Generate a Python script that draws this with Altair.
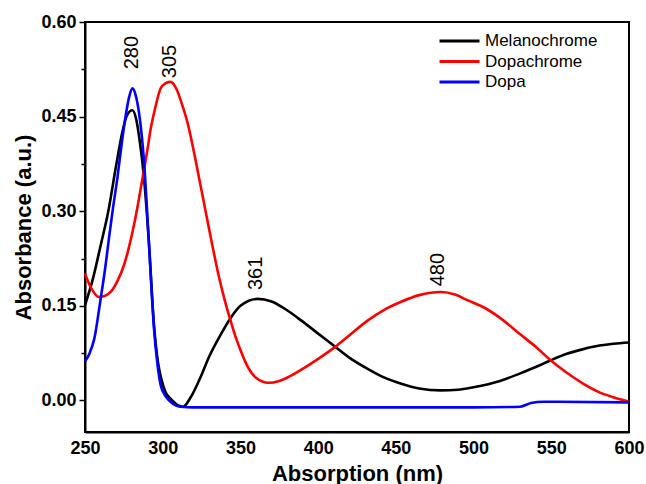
import altair as alt
import pandas as pd

# ---- data ----
mel_x = [250, 255, 260, 265, 270, 274, 277, 280.5, 283, 285, 288, 291, 294.4, 297, 299, 302, 305,
         310, 313, 318, 324, 330, 337, 343.5, 350, 361, 370, 380, 389, 400, 411, 420, 432, 442, 453,
         465, 479, 490, 500, 517, 530, 540, 549, 560, 570, 581, 590, 600]
mel_y = [0.151, 0.192, 0.245, 0.300, 0.372, 0.425, 0.452, 0.460, 0.445, 0.415, 0.352, 0.255, 0.119,
         0.060, 0.035, 0.012, 0.003, -0.008, -0.010, 0.005, 0.035, 0.070, 0.103, 0.130, 0.150, 0.161,
         0.157, 0.143, 0.127, 0.106, 0.085, 0.068, 0.050, 0.037, 0.027, 0.019, 0.016, 0.017, 0.021,
         0.031, 0.043, 0.053, 0.063, 0.074, 0.081, 0.087, 0.090, 0.092]

dopac_x = [250, 254, 259, 263, 266.5, 271, 275, 278, 281.5, 284, 287, 290, 292.3, 295, 298.7, 302,
           305, 309, 312.6, 316, 320, 324, 328, 332, 336, 340, 343.5, 347, 350, 355, 360, 368,
           375, 380, 390, 400, 411, 420, 432, 442, 453, 465, 479, 488, 496, 507, 517, 530, 540, 549,
           560, 571, 580, 590, 600]
dopac_y = [0.201, 0.178, 0.164, 0.166, 0.172, 0.190, 0.214, 0.240, 0.278, 0.310, 0.352, 0.395, 0.431,
           0.462, 0.495, 0.503, 0.505, 0.493, 0.468, 0.440, 0.395, 0.345, 0.295, 0.245, 0.198, 0.158,
           0.128, 0.100, 0.080, 0.052, 0.036, 0.028, 0.031, 0.036, 0.050, 0.066, 0.085, 0.103, 0.127,
           0.143, 0.156, 0.167, 0.172, 0.168, 0.159, 0.147, 0.131, 0.105, 0.085, 0.065, 0.044, 0.026,
           0.014, 0.005, -0.002]

dopa_x = [250, 253, 256, 260, 263, 265.4, 268, 270.8, 273.5, 276.2, 278.5, 280.5, 282.5, 284.7, 288,
          291.2, 294.4, 296.5, 298.7, 302, 305, 311.5, 320, 400, 500, 530, 537, 545, 600]
dopa_y = [0.062, 0.075, 0.098, 0.160, 0.210, 0.257, 0.305, 0.352, 0.405, 0.452, 0.482, 0.495, 0.485,
          0.457, 0.378, 0.246, 0.114, 0.060, 0.024, 0.006, -0.002, -0.010, -0.011, -0.011, -0.011,
          -0.010, -0.004, -0.002, -0.003]

series_names = ["Melanochrome", "Dopachrome", "Dopa"]
series_colors = ["#000000", "#ff0000", "#0000ff"]

peak_x = [280, 305, 360, 477]
peak_y = [0.525, 0.511, 0.175, 0.181]
peak_text = ["280", "305", "361", "480"]

y_ticks = [0.0, 0.075, 0.15, 0.225, 0.30, 0.375, 0.45, 0.525, 0.60]
x_ticks = [250, 300, 350, 400, 450, 500, 550, 600]

# ---- tables ----
rows = []
for name, xs, ys in zip(series_names, [mel_x, dopac_x, dopa_x], [mel_y, dopac_y, dopa_y]):
    for i, (a, b) in enumerate(zip(xs, ys)):
        rows.append({"series": name, "x": a, "y": b, "order": i})
df = pd.DataFrame(rows)
peaks = pd.DataFrame({"x": peak_x, "y": peak_y, "label": peak_text})

FONT = "Liberation Sans"

xscale = alt.Scale(domain=[250, 600], nice=False, zero=False)
yscale = alt.Scale(domain=[-0.05, 0.60], nice=False, zero=False)

lines = alt.Chart(df).mark_line(strokeWidth=2.6, interpolate="monotone").encode(
    x=alt.X("x:Q", scale=xscale,
            axis=alt.Axis(title="Absorption (nm)", values=x_ticks, ticks=False,
                          labelFlush=False, labelPadding=7, titlePadding=6, grid=False,
                          domainColor="black", domainWidth=2)),
    y=alt.Y("y:Q", scale=yscale,
            axis=alt.Axis(title="Absorbance (a.u.)", values=y_ticks, grid=False,
                          labelExpr="round(datum.value*100) % 15 == 0 ? format(datum.value, '.2f') : ''",
                          tickSize={"condition": {"test": "round(datum.value*100) % 15 == 0", "value": 6},
                                    "value": 4},
                          tickColor="black", tickWidth=1.5, labelPadding=3, titlePadding=5,
                          domainColor="black", domainWidth=2)),
    color=alt.Color("series:N", scale=alt.Scale(domain=series_names, range=series_colors),
                    legend=alt.Legend(title=None, orient="none", legendX=363, legendY=7.5,
                                      symbolType="M-2,0H2", symbolSize=400, symbolStrokeWidth=3,
                                      labelFontSize=17, labelFont=FONT, labelColor="black",
                                      labelOffset=14, rowPadding=0.5, padding=0)),
    order="order:Q",
)

labels = alt.Chart(peaks).mark_text(angle=270, align="left", baseline="middle",
                                    fontSize=20, font=FONT, color="black").encode(
    x=alt.X("x:Q", scale=xscale),
    y=alt.Y("y:Q", scale=yscale),
    text="label:N",
)

chart = alt.layer(lines, labels).properties(
    width=544, height=410,
    autosize=alt.AutoSizeParams(type="none"),
    padding={"left": 85, "top": 22, "right": 17, "bottom": 52},
).configure_view(stroke="black", strokeWidth=2).configure_axis(
    labelFont=FONT, labelFontSize=18, labelFontWeight="bold", labelColor="black",
    titleFont=FONT, titleFontSize=22, titleFontWeight="bold", titleColor="black",
)

chart.save("out.html", embed_options={"renderer": "svg", "actions": False})
